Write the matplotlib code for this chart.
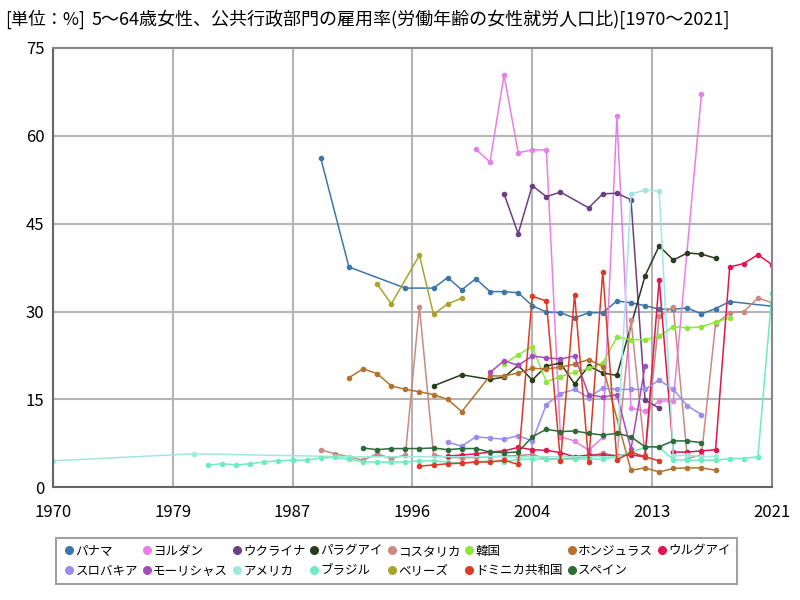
import numpy as np
import matplotlib.pyplot as plt
from matplotlib.lines import Line2D

plt.rcParams['font.family'] = ['Noto Sans CJK JP', 'DejaVu Sans']

# series data (year, value)
panama_x = [1989, 1991, 1995, 1997, 1998, 1999, 2000, 2001, 2002, 2003, 2004, 2005, 2006, 2007, 2008, 2009,
            2010, 2011, 2012, 2013, 2014, 2015, 2016, 2017, 2018, 2021]
panama_y = [56.2, 37.6, 34.0, 34.0, 35.8, 33.7, 35.6, 33.4, 33.4, 33.2, 31.0, 29.9, 29.8, 28.9, 29.8, 29.8,
            31.8, 31.5, 31.0, 30.4, 30.4, 30.6, 29.6, 30.5, 31.7, 30.9]
jordan_x = [2000, 2001, 2002, 2003, 2004, 2005, 2006, 2007, 2008, 2009, 2010, 2011, 2012, 2013, 2014, 2016]
jordan_y = [57.7, 55.5, 70.4, 57.1, 57.6, 57.6, 8.6, 7.9, 6.3, 8.5, 63.4, 13.5, 13.0, 14.7, 14.7, 67.2]
ukraine_x = [2002, 2003, 2004, 2005, 2006, 2008, 2009, 2010, 2011, 2012, 2013]
ukraine_y = [50.1, 43.3, 51.5, 49.6, 50.4, 47.7, 50.1, 50.2, 49.1, 14.9, 13.5]
paraguay_x = [1997, 1999, 2001, 2002, 2003, 2004, 2005, 2006, 2007, 2008, 2009, 2010, 2012, 2013, 2014,
              2015, 2016, 2017]
paraguay_y = [17.3, 19.2, 18.4, 18.8, 20.8, 18.3, 20.7, 21.2, 17.6, 20.7, 19.5, 19.1, 36.1, 41.2, 38.8,
              40.0, 39.8, 39.1]
costarica_x = list(range(1989, 2022))
costarica_y = [6.4, 5.7, 5.2, 4.6, 5.7, 4.9, 5.5, 30.8, 5.5, 5.1, 5.0, 5.1, 5.2, 5.3, 5.4, 5.6, 4.8,
               4.8, 5.0, 5.2, 5.9, 5.2, 28.6, 5.5, 29.2, 30.8, 4.9, 5.5, 27.9, 29.8, 30.0, 32.3, 31.5]
korea_x = list(range(2002, 2019))
korea_y = [21.1, 22.6, 24.0, 18.0, 18.9, 19.6, 20.3, 21.2, 25.6, 25.2, 25.2, 25.8, 27.4, 27.2, 27.4,
           28.2, 28.9]
honduras_x = [1991, 1992, 1993, 1994, 1995, 1996, 1997, 1998, 1999, 2001, 2002, 2003, 2004, 2005, 2006,
              2007, 2008, 2009, 2011, 2012, 2013, 2014, 2015, 2016, 2017]
honduras_y = [18.7, 20.2, 19.4, 17.3, 16.7, 16.3, 15.8, 15.0, 12.9, 19.0, 19.0, 19.5, 20.3, 20.2, 20.5,
              21.0, 21.8, 20.6, 2.9, 3.3, 2.6, 3.2, 3.3, 3.3, 2.9]
uruguay_x = list(range(1998, 2022))
uruguay_y = [5.3, 5.5, 5.7, 6.0, 6.2, 6.8, 6.4, 6.3, 5.9, 5.2, 5.5, 5.5, 5.4, 5.5, 5.2, 35.4, 6.0, 6.0,
             6.2, 6.4, 37.6, 38.2, 39.7, 38.0]
slovakia_x = list(range(1998, 2017))
slovakia_y = [7.7, 7.0, 8.6, 8.4, 8.2, 8.8, 7.9, 14.1, 16.0, 16.7, 15.3, 16.9, 16.7, 16.7, 16.7, 18.3,
              16.7, 13.9, 12.4]
mauritius_x = list(range(2001, 2013))
mauritius_y = [19.6, 21.6, 20.8, 22.4, 22.1, 21.9, 22.4, 15.8, 15.4, 15.8, 6.5, 20.7]
america_x = [1970, 1980, 1991, 2010, 2011, 2012, 2013, 2014, 2015, 2016, 2017]
america_y = [4.5, 5.7, 5.2, 5.2, 50.1, 50.7, 50.6, 5.3, 5.5, 5.2, 5.3]
brazil_x = list(range(1981, 2022))
brazil_y = [3.8, 4.0, 3.8, 4.0, 4.3, 4.5, 4.6, 4.6, 5.0, 5.1, 4.8, 4.3, 4.3, 4.3, 4.3, 4.5, 4.5, 4.3,
            4.1, 4.3, 4.5, 4.3, 4.8, 4.8, 4.8, 4.8, 4.8, 4.8, 4.8, 5.2, 6.0, 6.8, 6.8, 4.7, 4.6, 4.6,
            4.6, 4.9, 4.9, 5.2, 33.2]
belize_x = [1993, 1994, 1996, 1997, 1998, 1999]
belize_y = [34.7, 31.3, 39.6, 29.5, 31.3, 32.3]
dominican_x = list(range(1996, 2014))
dominican_y = [3.6, 3.8, 4.0, 4.1, 4.3, 4.3, 4.6, 3.9, 32.6, 31.8, 4.4, 32.9, 4.3, 36.8, 4.6, 6.0,
               5.2, 4.5]
spain_x = list(range(1992, 2017))
spain_y = [6.7, 6.4, 6.6, 6.6, 6.6, 6.7, 6.4, 6.6, 6.6, 6.0, 5.9, 6.0, 8.6, 9.9, 9.5, 9.6, 9.2, 8.9,
           9.2, 8.6, 6.9, 6.9, 7.9, 7.9, 7.6]

names = ['パナマ', 'ヨルダン', 'ウクライナ', 'パラグアイ', 'コスタリカ', '韓国', 'ホンジュラス', 'ウルグアイ',
         'スロバキア', 'モーリシャス', 'アメリカ', 'ブラジル', 'ベリーズ', 'ドミニカ共和国', 'スペイン']
xs = [panama_x, jordan_x, ukraine_x, paraguay_x, costarica_x, korea_x, honduras_x, uruguay_x,
      slovakia_x, mauritius_x, america_x, brazil_x, belize_x, dominican_x, spain_x]
ys = [panama_y, jordan_y, ukraine_y, paraguay_y, costarica_y, korea_y, honduras_y, uruguay_y,
      slovakia_y, mauritius_y, america_y, brazil_y, belize_y, dominican_y, spain_y]
colors = ['#3d76a8', '#e97fe6', '#6c3f82', '#2b3c1d', '#c98a80', '#8ee53f', '#b5722f', '#e0174f',
          '#9b8cf0', '#a64dbd', '#9fe8df', '#6eecc0', '#a8a42f', '#db3a25', '#2f6b3a']

fig = plt.figure(figsize=(8, 6), dpi=100)
ax = fig.add_axes([0.066, 0.188, 0.899, 0.732])

for x, y, c in zip(xs, ys, colors):
    ax.plot(x, y, color=c, lw=1.1, marker='o', ms=3.0)

ax.set_xlim(1970, 2021)
ax.set_ylim(0, 75)
ax.set_yticks([0, 15, 30, 45, 60, 75])
ax.set_xticks(np.linspace(1970, 2021, 7))
ax.set_xticklabels(['1970', '1979', '1987', '1996', '2004', '2013', '2021'])
ax.tick_params(labelsize=12, length=0)
ax.tick_params(axis='x', pad=12)
ax.tick_params(axis='y', pad=6)
ax.grid(color='#b4b4b4', lw=1.5)
ax.set_axisbelow(True)
for s in ax.spines.values():
    s.set_color('#888888')
    s.set_linewidth(1.5)
ax.spines['left'].set_color('#666666')
ax.spines['bottom'].set_color('#666666')

fig.text(0.006, 0.968, '[単位：%]', fontsize=12.5, va='center')
fig.text(0.114, 0.968, '5～64歳女性、公共行政部門の雇用率(労働年齢の女性就労人口比)[1970～2021]',
         fontsize=13, va='center')

# legend filled column-wise, so interleave to read row-wise
order = [0, 8, 1, 9, 2, 10, 3, 11, 4, 12, 5, 13, 6, 14, 7]
handles = [Line2D([], [], ls='none', marker='o', ms=5.5, color=colors[i]) for i in order]
labels = [names[i] for i in order]
leg = fig.legend(handles, labels, loc='center', bbox_to_anchor=(0.496, 0.065), ncol=8,
                 fontsize=9, frameon=True, fancybox=False, handletextpad=0.0,
                 columnspacing=0.2, handlelength=1.0, borderpad=0.55, labelspacing=0.55)
leg.get_frame().set_edgecolor('#888888')
leg.get_frame().set_linewidth(1.5)

fig.savefig('out.png', dpi=100)
